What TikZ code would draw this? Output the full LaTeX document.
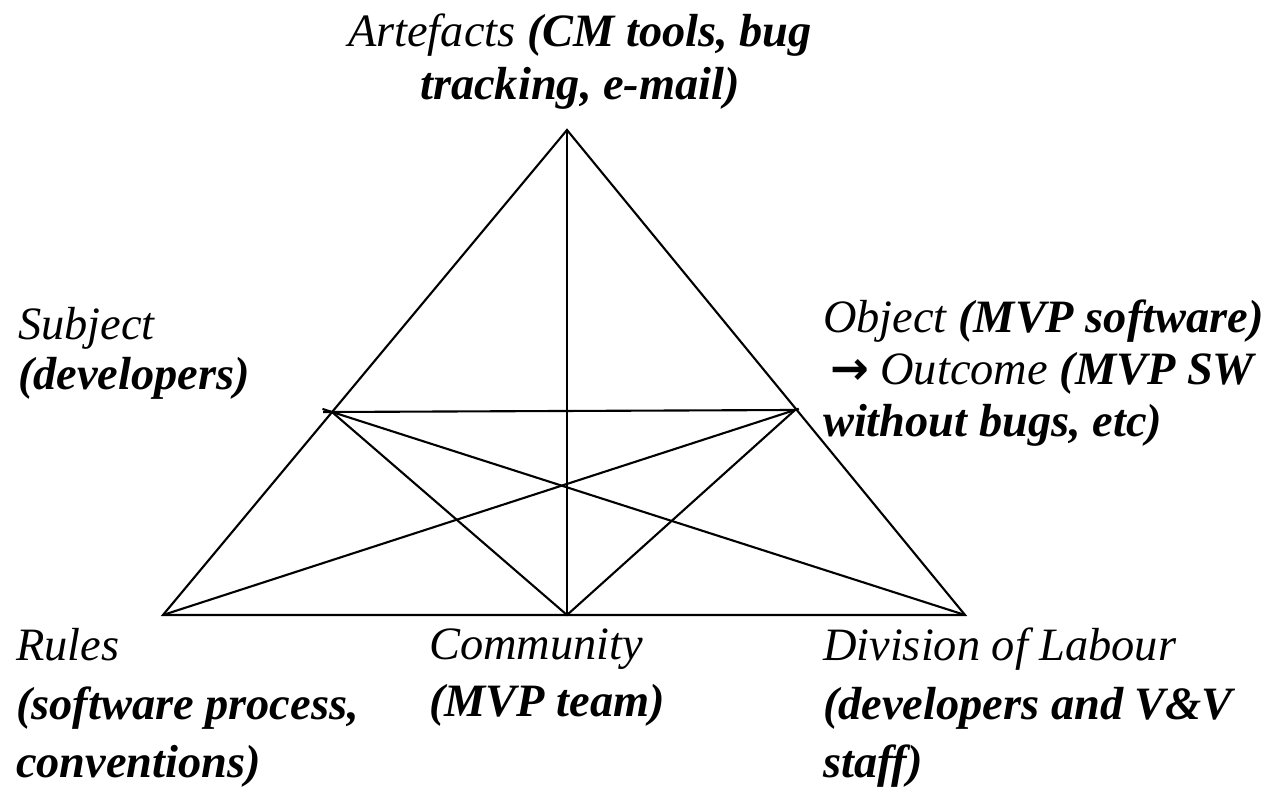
\documentclass[tikz,border=0pt]{standalone}
\usepackage{fontspec}
\setmainfont{Liberation Serif}
\newfontfamily\arrowfont{DejaVu Sans}

\tikzset{
  label text/.style={anchor=base west, align=left, inner sep=0pt},
}
\newcommand{\lblfont}[1]{\fontsize{26.4}{#1}\selectfont\itshape}

\begin{document}
\begin{tikzpicture}[line width=1.2pt, font=\lblfont{29.6}]
  \useasboundingbox (0,0) rectangle (25.58,15.86);
  % corners and side points of the triangle
  \coordinate (art)    at (11.34,13.26);
  \coordinate (rules)  at (3.26,3.56);
  \coordinate (labour) at (19.30,3.56);
  \coordinate (comm)   at (11.34,3.56);
  \coordinate (subj)   at (6.64,7.62);
  \coordinate (obj)    at (15.90,7.66);

  \draw (rules) -- (art) -- (labour) -- cycle;
  \draw (art) -- (comm);
  \draw[shorten <=-0.18cm] (subj) -- (obj);
  \draw (subj) -- (comm) -- (obj);
  \draw[shorten <=-0.2cm] (subj) -- (labour);
  \draw[shorten >=-0.08cm] (rules) -- (obj);

  % labels, placed by the baseline of their last line
  \node[anchor=base, align=center, inner sep=0pt, font=\lblfont{30.2}] (artlbl) at (11.60,13.86)
    {Artefacts \textbf{(CM tools, bug}\\\textbf{tracking, e-mail)}};
  \node[label text, font=\lblfont{29}] (subjlbl) at (0.34,8.06)
    {Subject\\\textbf{(developers)}};
  \node[label text] (objlbl) at (16.44,7.12)
    {Object \textbf{(MVP software)}\\
     \hspace{0.15em}{\arrowfont\bfseries\upshape →} Outcome \textbf{(MVP SW}\\
     \textbf{without bugs, etc)}};
  \node[label text, font=\lblfont{33.5}] (ruleslbl) at (0.30,0.30)
    {Rules\\\textbf{(software process,}\\\textbf{conventions)}};
  \node[label text, font=\lblfont{33}] (commlbl) at (8.56,1.52)
    {Community\\\textbf{(MVP team)}};
  \node[label text, font=\lblfont{33.5}] (labourlbl) at (16.44,0.30)
    {Division of Labour\\\textbf{(developers and V\&V}\\\textbf{staff)}};
\end{tikzpicture}
\end{document}
